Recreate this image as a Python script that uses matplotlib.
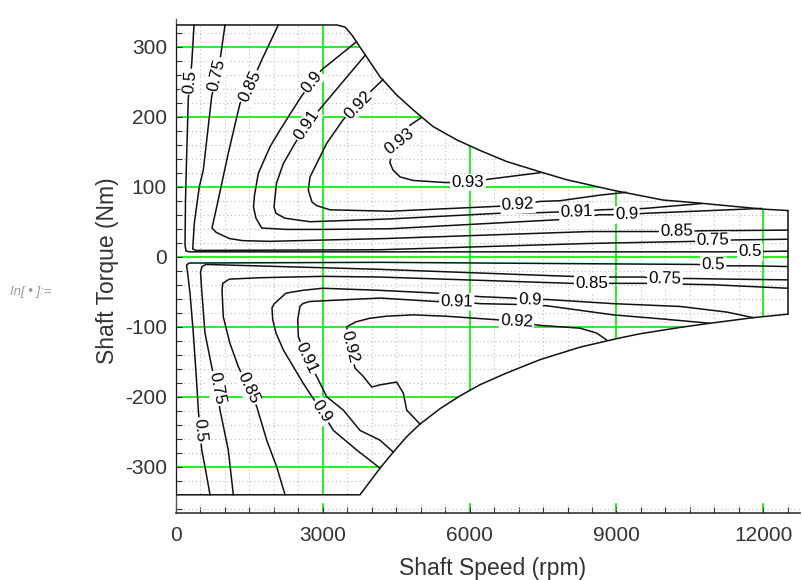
import matplotlib
matplotlib.use("Agg")
import matplotlib.pyplot as plt
from matplotlib.ticker import MultipleLocator

plt.rcParams['font.family'] = ['Liberation Sans', 'DejaVu Sans']
plt.rcParams['axes.unicode_minus'] = False

# operating envelope (rpm, Nm)
upper_boundary = [(0, 331), (3289, 331), (3453, 328), (3590, 317), (4168, 257), (4509, 231),
                  (4842, 210), (5250, 186), (5735, 167), (6205, 152), (6756, 136), (7498, 120),
                  (7982, 110), (8928, 95), (9949, 81), (10638, 77), (11993, 68), (12500, 66)]
lower_boundary = [(0, -340), (3759, -340), (4168, -302), (4440, -279), (4713, -257), (4985, -239),
                  (5394, -217), (5796, -199), (6205, -183), (6756, -166), (7437, -147), (8262, -129),
                  (9003, -117), (9480, -110), (10297, -101), (10909, -95), (11794, -87), (12500, -82)]

# efficiency contours, motoring side (torque > 0)
up_050 = [(368, 331), (321, 276), (286, 250), (251, 226), (219, 148), (194, 81), (184, 17), (204, 8),
          (286, 7), (4576, 7), (11420, 7), (12500, 8)]
up_075 = [(1001, 331), (899, 281), (831, 260), (729, 229), (558, 124), (476, 100), (374, 48), (341, 11),
          (409, 9), (4168, 10), (8458, 19), (10603, 22), (10971, 23), (11420, 24), (12500, 25)]
up_085 = [(2090, 331), (1751, 281), (1512, 243), (1308, 219), (1068, 148), (831, 71), (735, 41), (817, 35),
          (1089, 26), (1363, 23), (1920, 22), (4290, 26), (8458, 36), (10229, 36), (10705, 37), (12500, 38)]
up_090 = [(3687, 307), (2977, 267), (2772, 250), (2533, 226), (2125, 181), (1920, 157), (1681, 119),
          (1604, 88), (1583, 71), (1634, 55), (1751, 41), (2262, 39), (2997, 39), (4372, 40), (7845, 53),
          (8662, 60), (9208, 60), (9582, 62), (11960, 69)]
up_091 = [(3868, 288), (2977, 214), (2670, 188), (2431, 162), (2192, 133), (2053, 105), (2002, 71),
          (2043, 62), (2227, 55), (2738, 50), (4372, 54), (6579, 62), (7437, 63), (7845, 64), (8186, 64),
          (8662, 67), (9582, 69), (10740, 76)]
up_092 = [(4229, 253), (4004, 238), (3724, 217), (3418, 196), (3079, 162), (2874, 133), (2738, 114),
          (2703, 95), (2779, 78), (2874, 73), (3146, 67), (4372, 65), (6579, 72), (6987, 74), (7437, 79),
          (7845, 80), (8662, 88), (9200, 92)]
up_093 = [(5020, 199), (4781, 188), (4556, 165), (4392, 144), (4372, 134), (4433, 124), (4576, 114),
          (4842, 109), (5495, 106), (5966, 106), (6415, 111), (7437, 120)]

# generating side (torque < 0)
lo_050 = [(695, -340), (592, -300), (525, -276), (490, -248), (456, -219), (423, -181), (353, -109),
          (286, -52), (235, -22), (215, -12), (266, -9), (4168, -8), (8458, -10), (10638, -11),
          (10977, -12), (11318, -13), (11794, -13), (12500, -14)]
lo_075 = [(1171, -340), (1068, -276), (899, -219), (831, -188), (729, -157), (592, -109), (525, -48),
          (501, -22), (531, -14), (613, -11), (4168, -18), (8049, -28), (8928, -29), (9541, -29),
          (9990, -32), (10440, -31), (11318, -32), (12500, -33)]
lo_085 = [(2227, -340), (2057, -300), (1853, -262), (1649, -214), (1477, -188), (1273, -157), (1103, -124),
          (966, -86), (940, -48), (954, -38), (1089, -32), (1702, -30), (2997, -28), (4168, -29),
          (8084, -38), (8493, -38), (8934, -38), (9547, -38), (10971, -40), (12500, -45)]
lo_090 = [(4168, -302), (3692, -276), (3214, -248), (2977, -221), (2601, -181), (2192, -133), (2043, -109),
          (1976, -90), (1961, -73), (2008, -67), (2247, -52), (2588, -48), (2997, -45), (4168, -48),
          (5326, -52), (6211, -57), (6891, -59), (7232, -62), (7573, -61), (8934, -67), (10297, -71),
          (11251, -79), (11794, -87)]
lo_091 = [(4440, -279), (4168, -262), (3759, -248), (3418, -219), (3079, -200), (2874, -171), (2670, -145),
          (2499, -114), (2486, -90), (2533, -71), (2588, -67), (2723, -64), (2997, -63), (4168, -59),
          (5326, -64), (5735, -64), (6211, -67), (6891, -68), (7573, -70), (8934, -83), (9955, -89),
          (10909, -95)]
lo_092 = [(4985, -239), (4713, -219), (4645, -195), (4509, -179), (4168, -183), (3998, -186), (3827, -171),
          (3657, -159), (3555, -129), (3487, -100), (3677, -93), (3949, -88), (4290, -85), (4848, -83),
          (5530, -85), (6552, -90), (6960, -93), (7437, -98), (8254, -102), (8595, -109), (8799, -119)]

contours = [up_050, up_075, up_085, up_090, up_091, up_092, up_093,
            lo_050, lo_075, lo_085, lo_090, lo_091, lo_092]

# contour labels: text, speed, torque, angle
labels = [('0.5', 286, 250, 84), ('0.75', 831, 260, 77), ('0.85', 1512, 243, 65), ('0.9', 2772, 250, 52),
          ('0.91', 2670, 188, 56), ('0.92', 3724, 217, 46), ('0.93', 4556, 165, 38),
          ('0.93', 5966, 106, 0), ('0.92', 6987, 74, 3), ('0.91', 8186, 64, 2), ('0.9', 9208, 60, 1),
          ('0.85', 10229, 36, 1), ('0.75', 10971, 23, 1), ('0.5', 11727, 7, 0),
          ('0.5', 10977, -12, -1), ('0.75', 9990, -32, -1), ('0.85', 8493, -38, 0), ('0.9', 7232, -62, -2),
          ('0.91', 5735, -64, -1), ('0.92', 6960, -93, -3),
          ('0.5', 490, -248, -85), ('0.75', 831, -188, -79), ('0.85', 1477, -188, -65),
          ('0.9', 2977, -221, -57), ('0.91', 2670, -145, -65), ('0.92', 3555, -129, -76)]

x_min, x_max = 0, 12750
y_min, y_max = -366, 340
mask_floor = -352

fig = plt.figure(figsize=(8.03, 5.80), dpi=100)
ax = fig.add_axes([0.2192, 0.1155, 0.7771, 0.8523])
ax.set_xlim(x_min, x_max)
ax.set_ylim(y_min, y_max)

ax.xaxis.set_major_locator(MultipleLocator(3000))
ax.xaxis.set_minor_locator(MultipleLocator(500))
ax.yaxis.set_major_locator(MultipleLocator(100))
ax.yaxis.set_minor_locator(MultipleLocator(20))
ax.set_axisbelow(True)
ax.grid(which='major', color='#00ee00', lw=1.2)
ax.grid(which='minor', color='#bdbdbd', lw=0.8, ls=(0, (1, 2.5)))

# white out everything outside the envelope (grid only shows inside it)
mask = [(x_min, y_max), (x_max, y_max), (x_max, mask_floor), (x_min, mask_floor)]
mask += lower_boundary + upper_boundary[::-1] + [(x_min, y_max)]
ax.fill([p[0] for p in mask], [p[1] for p in mask], color='white', lw=0, zorder=1)

ax.plot([p[0] for p in upper_boundary], [p[1] for p in upper_boundary], color='#111111', lw=1.1, zorder=3)
ax.plot([p[0] for p in lower_boundary], [p[1] for p in lower_boundary], color='#111111', lw=1.1, zorder=3)
ax.plot([upper_boundary[-1][0], lower_boundary[-1][0]], [upper_boundary[-1][1], lower_boundary[-1][1]],
        color='#111111', lw=1.1, zorder=3)
ax.plot([0, 0], [lower_boundary[0][1], upper_boundary[0][1]], color='#111111', lw=1.3, zorder=3)

for c in contours:
    ax.plot([p[0] for p in c], [p[1] for p in c], color='#111111', lw=1.1, zorder=3)

for txt, sx, ty, ang in labels:
    ax.text(sx, ty, txt, fontsize=12.2, rotation=ang, rotation_mode='anchor', ha='center', va='center',
            color='black', zorder=4,
            bbox=dict(boxstyle='square,pad=0.08', fc='white', ec='none'))

for side in ['top', 'right']:
    ax.spines[side].set_visible(False)
ax.spines['left'].set_color('#555555')
ax.spines['bottom'].set_color('#333333')
ax.spines['left'].set_linewidth(1.0)
ax.spines['bottom'].set_linewidth(1.2)

ax.tick_params(which='both', direction='in', length=4, width=0.8, color='#333333',
               labelsize=15, labelcolor='#333333')
ax.tick_params(axis='x', which='both', pad=9.5)
ax.tick_params(axis='y', which='both', pad=6.5)

ax.set_xlabel('Shaft Speed (rpm)', fontsize=16.5, color='#333333', va='center')
ax.set_ylabel('Shaft Torque (Nm)', fontsize=16.5, color='#333333', va='center')
ax.xaxis.set_label_coords(0.508, -0.113)
ax.yaxis.set_label_coords(-0.1106, 0.49)

fig.text(0.013, 1 - 292 / 580, 'In[ \u2022 ]:=', fontsize=9.5, color='#999999', style='italic', va='center')

fig.savefig('out.png', dpi=100)
